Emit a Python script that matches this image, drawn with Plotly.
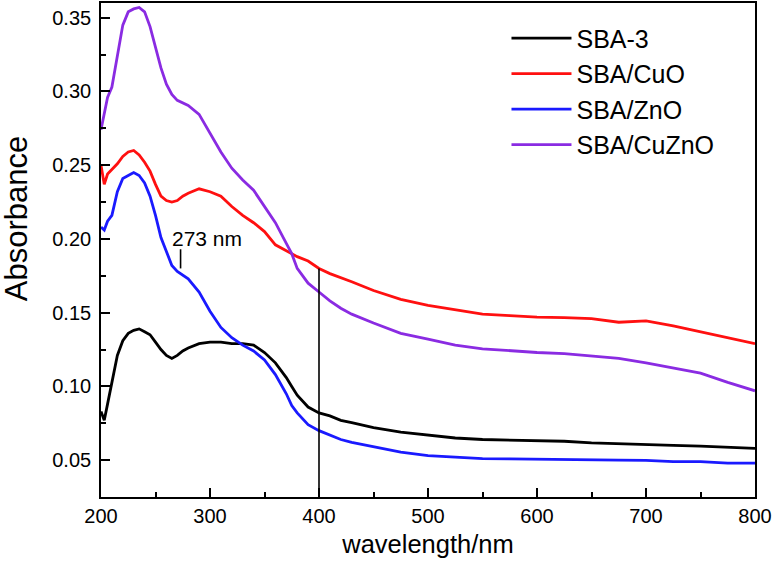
import plotly.graph_objects as go

wavelength = [200, 203, 206, 210, 215, 220, 225, 230, 235, 240, 245, 250, 255, 260, 265, 270, 275, 280,
              290, 300, 310, 320, 330, 340, 350, 360, 370, 375, 380, 390, 400, 410, 420, 430, 450, 475,
              500, 525, 550, 575, 600, 625, 650, 675, 700, 725, 750, 775, 800]

sba3 = [0.083, 0.077, 0.088, 0.103, 0.121, 0.131, 0.136, 0.138, 0.139, 0.137, 0.135, 0.130, 0.125, 0.121,
        0.119, 0.121, 0.124, 0.126, 0.129, 0.130, 0.130, 0.129, 0.129, 0.128, 0.123, 0.116, 0.106, 0.100,
        0.094, 0.086, 0.082, 0.080, 0.077, 0.0755, 0.072, 0.069, 0.067, 0.065, 0.064, 0.0635, 0.063,
        0.0628, 0.0617, 0.061, 0.0605, 0.060, 0.0595, 0.059, 0.058]

sba_cuo = [0.250, 0.237, 0.244, 0.247, 0.251, 0.256, 0.259, 0.260, 0.257, 0.252, 0.246, 0.237, 0.229, 0.226,
           0.225, 0.226, 0.229, 0.231, 0.234, 0.232, 0.229, 0.222, 0.216, 0.211, 0.205, 0.196, 0.192, 0.190,
           0.188, 0.185, 0.180, 0.1765, 0.174, 0.171, 0.165, 0.159, 0.155, 0.152, 0.149, 0.148, 0.147,
           0.1466, 0.146, 0.1435, 0.1444, 0.141, 0.137, 0.133, 0.129]

sba_zno = [0.208, 0.206, 0.212, 0.216, 0.232, 0.241, 0.243, 0.245, 0.243, 0.238, 0.229, 0.216, 0.201, 0.191,
           0.182, 0.178, 0.1755, 0.173, 0.164, 0.151, 0.140, 0.133, 0.128, 0.124, 0.118, 0.108, 0.095, 0.087,
           0.082, 0.074, 0.070, 0.067, 0.064, 0.062, 0.059, 0.0555, 0.053, 0.052, 0.051, 0.0508, 0.0505,
           0.0504, 0.050, 0.050, 0.0498, 0.049, 0.049, 0.048, 0.048]

sba_cuzno = [0.274, 0.285, 0.296, 0.303, 0.324, 0.345, 0.354, 0.356, 0.357, 0.354, 0.344, 0.330, 0.316, 0.305,
             0.298, 0.294, 0.292, 0.2905, 0.2845, 0.272, 0.259, 0.248, 0.240, 0.233, 0.222, 0.211, 0.197,
             0.190, 0.180, 0.170, 0.164, 0.158, 0.153, 0.149, 0.143, 0.136, 0.132, 0.128, 0.1255, 0.124,
             0.123, 0.1222, 0.1208, 0.119, 0.116, 0.1125, 0.109, 0.1027, 0.097]

series_names = ["SBA-3", "SBA/CuO", "SBA/ZnO", "SBA/CuZnO"]
series_values = [sba3, sba_cuo, sba_zno, sba_cuzno]
series_colors = ["#000000", "#ff1010", "#1a1aff", "#8a2be2"]

x_ticks = [200, 300, 400, 500, 600, 700, 800]
y_ticks = [0.05, 0.10, 0.15, 0.20, 0.25, 0.30, 0.35]

# reference markers
edge_wavelength = 400
edge_value = 0.180
peak_wavelength = 273
peak_low, peak_high = 0.180, 0.193
peak_label = "273 nm"

FONT = "Liberation Sans, Arial, sans-serif"

fig = go.Figure()
for i, (name, vals, col) in enumerate(zip(series_names, series_values, series_colors)):
    fig.add_trace(go.Scatter(x=wavelength, y=vals, mode="lines", name=name,
                             line=dict(color=col, width=2.8), legendgroup=f"g{i}"))

fig.add_shape(type="line", x0=edge_wavelength, x1=edge_wavelength, y0=0.025, y1=edge_value,
              xref="x", yref="y", line=dict(color="black", width=1.6))
fig.add_shape(type="line", x0=peak_wavelength, x1=peak_wavelength, y0=peak_low, y1=peak_high,
              xref="x", yref="y", line=dict(color="black", width=1.6))
fig.add_annotation(x=peak_wavelength, y=peak_high, text=peak_label, showarrow=False,
                   xref="x", yref="y", xanchor="left", yanchor="bottom", xshift=-11, yshift=-3,
                   font=dict(size=21, color="black", family=FONT))
# y-axis title (placed as in the reference, above the axis centre)
fig.add_annotation(x=-0.128, y=0.563, xref="paper", yref="paper", text="Absorbance",
                   textangle=-90, showarrow=False, xanchor="center", yanchor="middle",
                   font=dict(size=31, color="black", family=FONT))

axis_common = dict(showline=True, linecolor="black", linewidth=1.6, mirror=True,
                   ticks="inside", ticklen=9, tickwidth=1.6, tickcolor="black",
                   showgrid=False, zeroline=False,
                   tickfont=dict(size=20, color="black", family=FONT))

fig.update_xaxes(range=[200, 800], tickvals=x_ticks, ticktext=[str(v) for v in x_ticks],
                 title=dict(text="wavelength/nm", font=dict(size=25.5, color="black", family=FONT), standoff=9),
                 minor=dict(ticks="inside", ticklen=5, tickwidth=1.6, tickcolor="black", dtick=50,
                            tick0=200, showgrid=False),
                 automargin=False,
                 **axis_common)
fig.update_yaxes(range=[0.025, 0.36], tickvals=y_ticks, ticktext=[f"{v:.2f}" for v in y_ticks],
                 ticklabelstandoff=4,
                 minor=dict(ticks="inside", ticklen=5, tickwidth=1.6, tickcolor="black", dtick=0.025,
                            tick0=0.025, showgrid=False),
                 automargin=False,
                 **axis_common)

fig.update_layout(
    width=774, height=574,
    margin=dict(l=101, r=19, t=3, b=77),
    paper_bgcolor="white", plot_bgcolor="white",
    font=dict(family=FONT, color="black"),
    legend=dict(x=0.62, y=0.975, xanchor="left", yanchor="top", bgcolor="rgba(0,0,0,0)",
                font=dict(size=25, color="black", family=FONT), itemwidth=60, tracegroupgap=0,
                traceorder="normal"),
    showlegend=True,
)

fig.write_html("out.html", config={"displayModeBar": False},
               post_script="document.body.style.margin='0';document.body.style.padding='0';")
